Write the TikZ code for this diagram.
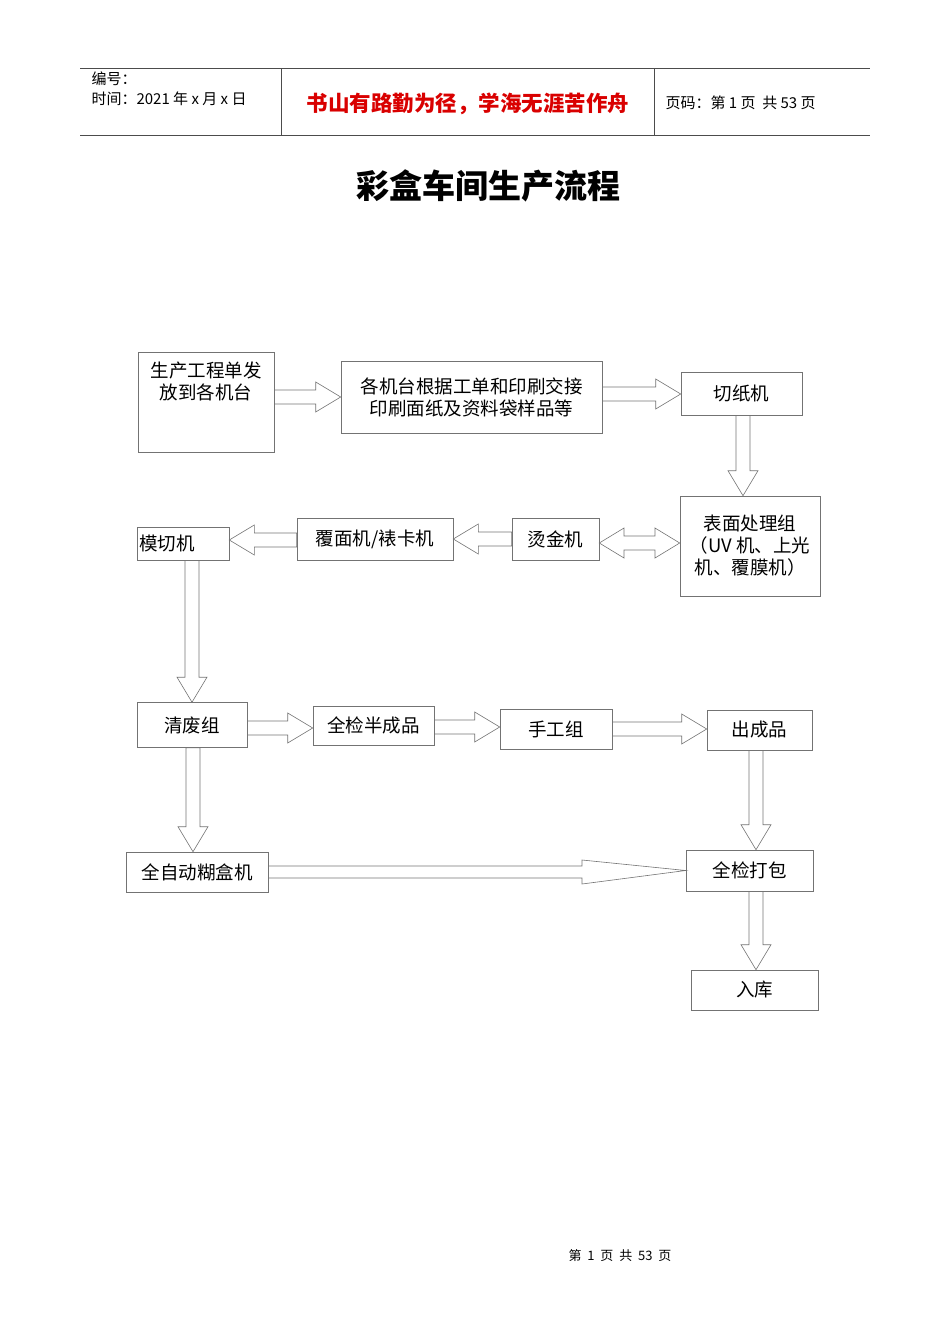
\documentclass[tikz,border=0pt]{standalone}
\usepackage{fontspec}
\setmainfont{Noto Sans CJK SC}
\usetikzlibrary{calc}
\tikzset{
  box/.style={draw=black!55,line width=0.6pt,inner sep=0pt,font=\fontsize{18.5}{22}\selectfont,align=center},
  arrowline/.style={draw=black!55,line width=0.6pt},
}
\newcommand\barr[3][25]{%
  \coordinate (tA) at (#2); \coordinate (tB) at (#3);
  \coordinate (tC) at ($(tB)!#1pt!(tA)$);
  \draw[arrowline] ($(tA)!7pt!90:(tB)$) -- ($(tC)!7pt!90:(tB)$) -- ($(tC)!15pt!90:(tB)$) -- (tB)
    -- ($(tC)!15pt!-90:(tB)$) -- ($(tC)!7pt!-90:(tB)$) -- ($(tA)!7pt!-90:(tB)$) -- cycle;}
\begin{document}
\begin{tikzpicture}[x=1pt,y=-1pt]
\useasboundingbox (0,0) rectangle (950,1344);
% header
\draw[black!70,line width=0.6pt] (80,68) -- (870,68) (80,135) -- (870,135) (281,68) -- (281,135) (654,68) -- (654,135);
\node[anchor=west,font=\fontsize{15}{17}\selectfont] (h1) at (88,79) {编号：};
\node[anchor=west,font=\fontsize{15}{17}\selectfont] (h2) at (88,99) {时间：2021 年 x 月 x 日};
\node[font=\bfseries\fontsize{21.5}{24}\selectfont,text=red!85!black] (h3) at (468,104) {书山有路勤为径，学海无涯苦作舟};
\node[anchor=west,font=\fontsize{15}{17}\selectfont] (h4) at (662,103) {页码：第 1 页\ \ 共 53 页};
\node[font=\bfseries\fontsize{33}{36}\selectfont] (title) at (488,186) {彩盒车间生产流程};
\node[font=\fontsize{13}{15}\selectfont] (foot) at (620,1256) {第\ \ 1\ \ 页\ \ 共\ \ 53\ \ 页};
% boxes
\node[box,minimum width=136pt,minimum height=100pt] (n1) at (206,402) {};
\node[font=\fontsize{18.5}{22}\selectfont,align=center,anchor=north] at (206,358) {生产工程单发\\放到各机台};
\node[box,minimum width=261pt,minimum height=72pt] (n2) at (471.5,397) {各机台根据工单和印刷交接\\印刷面纸及资料袋样品等};
\node[box,minimum width=121pt,minimum height=43pt] (n3) at (741.5,393.5) {切纸机};
\node[box,minimum width=140pt,minimum height=100pt] (n4) at (750,546) {表面处理组\\（UV 机、上光\\机、覆膜机）};
\node[box,minimum width=87pt,minimum height=42pt] (n5) at (555.5,539) {烫金机};
\node[box,minimum width=156pt,minimum height=42pt] (n6) at (375,539) {覆面机/裱卡机};
\node[box,minimum width=92pt,minimum height=33pt,text width=88pt,align=left] (n7) at (183,543.5) {模切机};
\node[box,minimum width=110pt,minimum height=45pt] (n8) at (192,725) {清废组};
\node[box,minimum width=121pt,minimum height=39pt] (n9) at (373.5,725.5) {全检半成品};
\node[box,minimum width=112pt,minimum height=40pt] (n10) at (556,729) {手工组};
\node[box,minimum width=105pt,minimum height=40pt] (n11) at (759.5,730) {出成品};
\node[box,minimum width=142pt,minimum height=40pt] (n12) at (197,872) {全自动糊盒机};
\node[box,minimum width=127pt,minimum height=41pt] (n13) at (749.5,870.5) {全检打包};
\node[box,minimum width=127pt,minimum height=40pt] (n14) at (754.5,990) {入库};
% arrows
\barr{n1.east |- 0,397}{n2.west |- 0,397}
\barr{n2.east |- 0,394}{n3.west |- 0,394}
\barr{n3.south -| 743,0}{n4.north -| 743,0}
\barr{n5.west}{n6.east}
\barr{n6.west |- 0,540}{n7.east |- 0,540}
\draw[arrowline] (n5.east |- 0,543) -- (624,528) -- (624,536) -- (655,536) -- (655,528) -- (n4.west |- 0,543)
  -- (655,558) -- (655,550) -- (624,550) -- (624,558) -- cycle;
\barr{n7.south -| 192,0}{n8.north -| 192,0}
\barr{n8.east |- 0,728}{n9.west |- 0,728}
\barr{n9.east |- 0,727}{n10.west |- 0,727}
\barr{n10.east |- 0,729}{n11.west |- 0,729}
\barr{n11.south -| 756,0}{n13.north -| 756,0}
\barr{n8.south -| 193,0}{n12.north -| 193,0}
\coordinate (q1) at (n12.east); \coordinate (q2) at (n13.west);
\draw[arrowline] ($(q1)+(0,-6)$) -- (582,866) -- (582,860) -- (q2) -- (582,884) -- (582,878) -- ($(q1)+(0,6)$) -- cycle;
\barr{n13.south -| 756,0}{n14.north -| 756,0}
\end{tikzpicture}
\end{document}
